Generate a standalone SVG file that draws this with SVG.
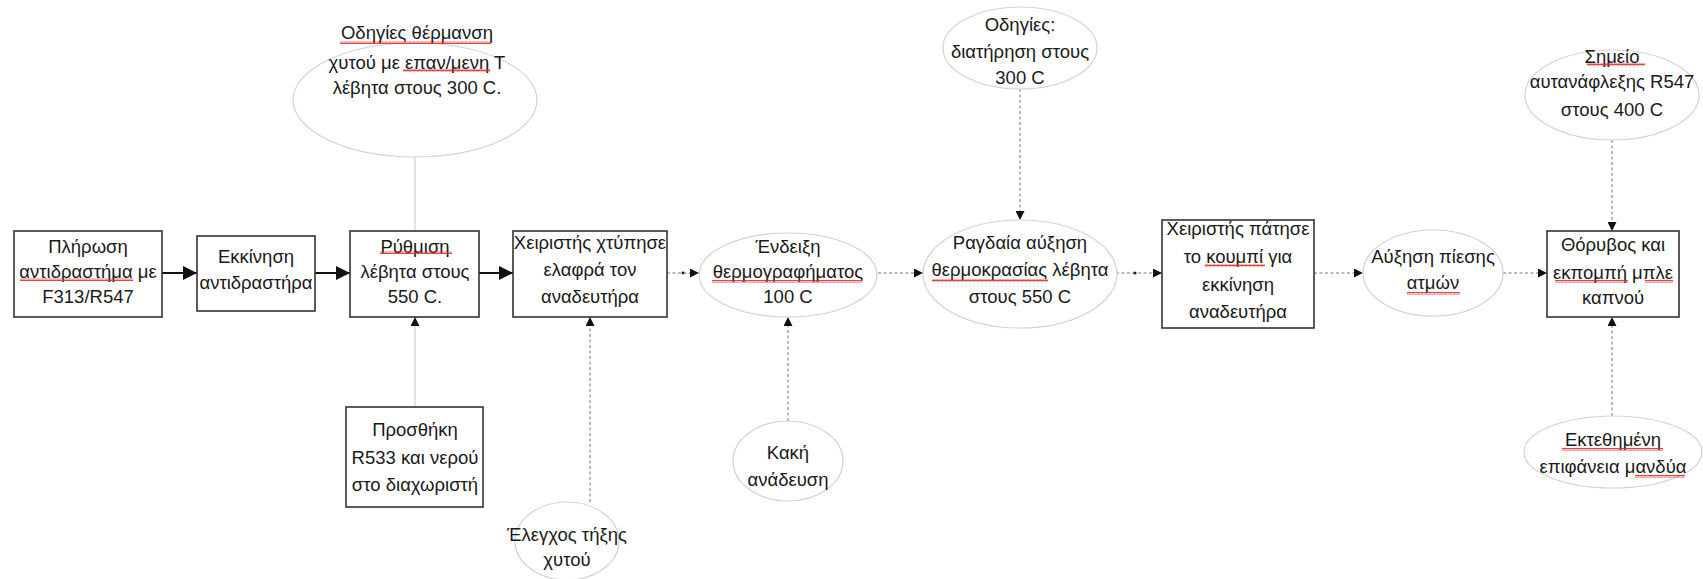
<svg xmlns="http://www.w3.org/2000/svg" width="1703" height="579" viewBox="0 0 1703 579">
<style>
.bx{fill:#fff;stroke:#333;stroke-width:1.6}
.el{fill:#fff;stroke:#d2d2d2;stroke-width:1.2}
.t{font-family:"Liberation Sans",Arial,sans-serif;font-size:18.5px;fill:#1a1a1a;text-anchor:middle}
.s{stroke:#111;stroke-width:1.8;fill:none}
.d{stroke:#777;stroke-width:1;stroke-dasharray:3,2.5;fill:none}
.g{stroke:#d0d0d0;stroke-width:1.2;fill:none}
.sq{fill:url(#wave)}
</style>
<defs>
<marker id="a" viewBox="0 0 10 10" refX="10" refY="5" markerWidth="9" markerHeight="9" markerUnits="userSpaceOnUse" orient="auto"><path d="M0,0 L10,5 L0,10 z" fill="#111"/></marker>
<marker id="b" viewBox="0 0 10 10" refX="10" refY="5" markerWidth="14" markerHeight="14" markerUnits="userSpaceOnUse" orient="auto"><path d="M0,0 L10,5 L0,10 z" fill="#111"/></marker>
<pattern id="wave" width="4" height="3" patternUnits="userSpaceOnUse"><path d="M0,2.5 L1,0.5 L2,2.5 L3,0.5 L4,2.5" stroke="#e03030" stroke-width="0.9" fill="none"/></pattern>
</defs>
<rect width="1703" height="579" fill="#fff"/>
<g id="connectors">
<line class="s" x1="162" y1="273" x2="197" y2="273" marker-end="url(#b)"/>
<line class="s" x1="315" y1="273" x2="350" y2="273" marker-end="url(#b)"/>
<line class="s" x1="479" y1="273" x2="513" y2="273" marker-end="url(#b)"/>
<line class="d" x1="667" y1="273" x2="699" y2="273" marker-end="url(#a)"/>
<line class="d" x1="878" y1="273" x2="923" y2="273" marker-end="url(#a)"/>
<line class="d" x1="1116" y1="273" x2="1162" y2="273" marker-end="url(#a)"/>
<circle cx="1135" cy="273" r="1.6" fill="#222"/>
<circle cx="683" cy="273" r="1.4" fill="#222"/>
<line class="d" x1="1314" y1="273" x2="1363" y2="273" marker-end="url(#a)"/>
<line class="d" x1="1503" y1="273" x2="1547" y2="273" marker-end="url(#a)"/>
<line class="g" x1="415" y1="157" x2="415" y2="231"/>
<line class="g" x1="415" y1="407" x2="415" y2="317" marker-end="url(#a)"/>
<line class="d" x1="590" y1="502" x2="590" y2="317" marker-end="url(#a)"/>
<line class="d" x1="788" y1="421" x2="788" y2="317" marker-end="url(#a)"/>
<line class="d" x1="1020" y1="89" x2="1020" y2="220" marker-end="url(#a)"/>
<line class="d" x1="1612" y1="140" x2="1612" y2="231" marker-end="url(#a)"/>
<line class="d" x1="1612" y1="416" x2="1612" y2="317" marker-end="url(#a)"/>
</g>
<g id="n1"><rect class="bx" x="14" y="231" width="148" height="86"/>
<text class="t"><tspan x="88" y="253">Πλήρωση</tspan><tspan x="88" y="278">αντιδραστήμα με</tspan><tspan x="88" y="303">F313/R547</tspan></text>
<rect class="sq" x="20" y="278" width="113" height="3"/></g>
<g id="n2"><rect class="bx" x="197" y="236" width="118" height="75"/>
<text class="t"><tspan x="256" y="263">Εκκίνηση</tspan><tspan x="256" y="289">αντιδραστήρα</tspan></text></g>
<g id="n3"><rect class="bx" x="350" y="231" width="129" height="86"/>
<text class="t"><tspan x="415" y="253">Ρύθμιση</tspan><tspan x="415" y="278">λέβητα στους</tspan><tspan x="415" y="303">550 C.</tspan></text>
<rect class="sq" x="380" y="251" width="72" height="3"/></g>
<g id="n4"><rect class="bx" x="513" y="231" width="154" height="86"/>
<text class="t"><tspan x="590" y="249">Χειριστής χτύπησε</tspan><tspan x="590" y="276">ελαφρά τον</tspan><tspan x="590" y="303">αναδευτήρα</tspan></text></g>
<g id="n5"><ellipse class="el" cx="788" cy="275" rx="89" ry="42"/>
<text class="t"><tspan x="788" y="253">Ένδειξη</tspan><tspan x="788" y="278">θερμογραφήματος</tspan><tspan x="788" y="303">100 C</tspan></text>
<rect class="sq" x="712" y="280" width="150" height="3"/></g>
<g id="n6"><ellipse class="el" cx="1020" cy="274" rx="97" ry="54"/>
<text class="t"><tspan x="1020" y="249">Ραγδαία αύξηση</tspan><tspan x="1020" y="276">θερμοκρασίας λέβητα</tspan><tspan x="1020" y="303">στους 550 C</tspan></text>
<rect class="sq" x="932" y="279" width="116" height="3"/></g>
<g id="n7"><rect class="bx" x="1162" y="220" width="152" height="108"/>
<text class="t"><tspan x="1238" y="235">Χειριστής πάτησε</tspan><tspan x="1238" y="263">το κουμπί για</tspan><tspan x="1238" y="291">εκκίνηση</tspan><tspan x="1238" y="318">αναδευτήρα</tspan></text>
<rect class="sq" x="1205" y="264" width="60" height="3"/></g>
<g id="n8"><ellipse class="el" cx="1433" cy="273" rx="70" ry="43"/>
<text class="t"><tspan x="1433" y="263">Αύξηση πίεσης</tspan><tspan x="1433" y="289">ατμών</tspan></text>
<rect class="sq" x="1407" y="292" width="53" height="3"/></g>
<g id="n9"><rect class="bx" x="1547" y="231" width="132" height="86"/>
<text class="t"><tspan x="1613" y="251">Θόρυβος και</tspan><tspan x="1613" y="279">εκπομπή μπλε</tspan><tspan x="1613" y="304">καπνού</tspan></text>
<rect class="sq" x="1555" y="280" width="73" height="3"/><rect class="sq" x="1645" y="280" width="28" height="3"/></g>
<g id="n10"><ellipse class="el" cx="415" cy="100" rx="122" ry="57"/>
<text class="t"><tspan x="417" y="39">Οδηγίες θέρμανση</tspan><tspan x="417" y="69">χυτού με επαν/μενη Τ</tspan><tspan x="417" y="94">λέβητα στους 300 C.</tspan></text>
<rect class="sq" x="340" y="41" width="151" height="3"/><rect class="sq" x="403" y="69" width="87" height="3"/></g>
<g id="n11"><rect class="bx" x="346" y="407" width="137" height="100"/>
<text class="t"><tspan x="415" y="436">Προσθήκη</tspan><tspan x="415" y="464">R533 και νερού</tspan><tspan x="415" y="491">στο διαχωριστή</tspan></text></g>
<g id="n12"><ellipse class="el" cx="567" cy="541" rx="52" ry="39"/>
<text class="t"><tspan x="567" y="541">Έλεγχος τήξης</tspan><tspan x="567" y="566">χυτού</tspan></text></g>
<g id="n13"><ellipse class="el" cx="788" cy="461" rx="55" ry="40"/>
<text class="t"><tspan x="788" y="459">Κακή</tspan><tspan x="788" y="486">ανάδευση</tspan></text></g>
<g id="n14"><ellipse class="el" cx="1020" cy="48" rx="77" ry="41"/>
<text class="t"><tspan x="1020" y="31">Οδηγίες:</tspan><tspan x="1020" y="58">διατήρηση στους</tspan><tspan x="1020" y="84">300 C</tspan></text></g>
<g id="n15"><ellipse class="el" cx="1612" cy="95" rx="87" ry="45"/>
<text class="t"><tspan x="1612" y="63">Σημείο</tspan><tspan x="1612" y="88">αυτανάφλεξης R547</tspan><tspan x="1612" y="116">στους 400 C</tspan></text>
<rect class="sq" x="1587" y="63" width="58" height="3"/></g>
<g id="n16"><ellipse class="el" cx="1613" cy="452" rx="89" ry="36"/>
<text class="t"><tspan x="1613" y="446">Εκτεθημένη</tspan><tspan x="1613" y="473">επιφάνεια μανδύα</tspan></text>
<rect class="sq" x="1562" y="448" width="101" height="3"/><rect class="sq" x="1635" y="475" width="50" height="3"/></g>
</svg>
